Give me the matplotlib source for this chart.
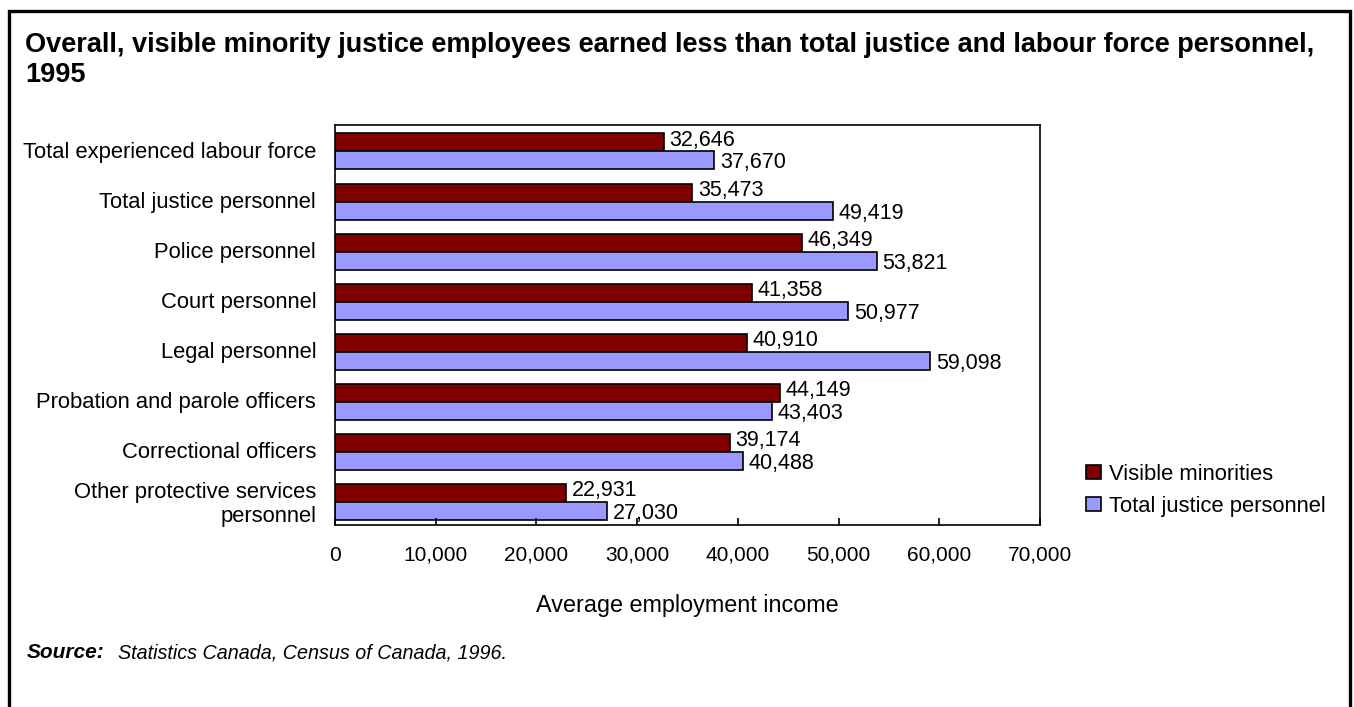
import matplotlib

matplotlib.use("Agg")
import matplotlib.pyplot as plt
import numpy as np
from matplotlib.patches import Rectangle

plt.rcParams["font.family"] = ["Liberation Sans", "DejaVu Sans"]

categories = [
    "Total experienced labour force",
    "Total justice personnel",
    "Police personnel",
    "Court personnel",
    "Legal personnel",
    "Probation and parole officers",
    "Correctional officers",
    "Other protective services\npersonnel",
]
visible_minorities = [32646, 35473, 46349, 41358, 40910, 44149, 39174, 22931]
total_justice = [37670, 49419, 53821, 50977, 59098, 43403, 40488, 27030]
xticks = [0, 10000, 20000, 30000, 40000, 50000, 60000, 70000]

RED = "#800000"
BLUE = "#9999FF"

fig = plt.figure(figsize=(13.54, 7.07), dpi=100)
ax = fig.add_axes([0.2474, 0.2574, 0.5207, 0.5658])

y = np.arange(len(categories))
h = 0.36
off = 0.03
bars_vm = ax.barh(y - h / 2 + off, visible_minorities, height=h, color=RED,
                  edgecolor="black", linewidth=1.2, label="Visible minorities")
bars_tj = ax.barh(y + h / 2 + off, total_justice, height=h, color=BLUE,
                  edgecolor="black", linewidth=1.2, label="Total justice personnel")

# value labels, nudged apart a little so the pair reads cleanly
for bars, vals, dy in [(bars_vm, visible_minorities, 1.2), (bars_tj, total_justice, -1.8)]:
    for bar, v in zip(bars, vals):
        ax.annotate(f"{v:,}", (v, bar.get_y() + bar.get_height() / 2),
                    xytext=(4, dy), textcoords="offset points",
                    va="center", ha="left", fontsize=15.5)

ax.set_ylim(len(categories) - 0.5, -0.5)
ax.set_xlim(0, 70000)
ax.set_yticks(y)
ax.set_yticklabels(categories, fontsize=15.8)
ax.set_xticks(xticks)
ax.set_xticklabels([f"{t:,}" for t in xticks], fontsize=15)
ax.tick_params(axis="y", length=0, pad=13.5)
ax.tick_params(axis="x", direction="in", length=5, width=1.2, pad=15)
for s in ax.spines.values():
    s.set_linewidth(1.2)
ax.set_xlabel("Average employment income", fontsize=16.8, labelpad=21)

ax.legend(loc="upper left", bbox_to_anchor=(1.053, 0.175), frameon=False,
          fontsize=15.8, handlelength=0.68, handleheight=0.6, handletextpad=0.36,
          labelspacing=0.5, borderaxespad=0)

fig.text(0.0185, 0.955, "Overall, visible minority justice employees earned less than total justice and labour force personnel,\n1995",
         fontsize=19.5, fontweight="bold", va="top", ha="left", linespacing=1.2)
fig.text(0.02, 0.077, "Source:", fontsize=15, fontweight="bold", style="italic", va="center")
fig.text(0.087, 0.077, "Statistics Canada, Census of Canada, 1996.", fontsize=14.2, style="italic", va="center")

frame = Rectangle((0.0065, -0.05), 0.9905, 1.05 - 0.0155, transform=fig.transFigure,
                  fill=False, edgecolor="black", linewidth=2.4, clip_on=False)
fig.patches.append(frame)

fig.savefig("out.png", dpi=100)
